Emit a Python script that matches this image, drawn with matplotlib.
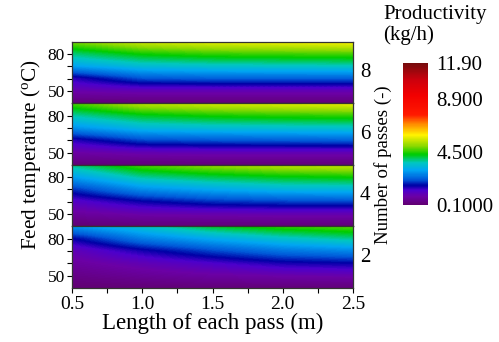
import numpy as np
import matplotlib
matplotlib.use("Agg")
import matplotlib.pyplot as plt
from matplotlib.colors import LinearSegmentedColormap, Normalize
from matplotlib.ticker import MultipleLocator, FixedLocator

plt.rcParams["font.family"] = ["Liberation Serif", "DejaVu Serif"]
plt.rcParams["mathtext.fontset"] = "custom"
plt.rcParams["mathtext.rm"] = "Liberation Serif"

# pass length (m) and feed temperature (degC) grid
lengths = [0.5, 1.0, 1.5, 2.0, 2.5]
temps = [40, 50, 60, 70, 80, 90]
passes = [8, 6, 4, 2]  # top panel to bottom panel

# productivity (kg/h), rows = temps (40 -> 90), cols = lengths
prod_8 = [
    [0.20, 0.20, 0.20, 0.20, 0.20],
    [0.90, 1.00, 1.00, 1.00, 1.00],
    [1.50, 2.20, 2.30, 2.30, 2.30],
    [3.00, 3.40, 3.50, 3.55, 3.60],
    [3.90, 4.40, 4.60, 4.65, 4.70],
    [5.00, 5.60, 5.80, 5.90, 6.00],
]
prod_6 = [
    [0.20, 0.20, 0.20, 0.20, 0.20],
    [0.80, 0.95, 1.00, 1.00, 1.00],
    [1.50, 2.10, 2.20, 2.25, 2.30],
    [2.80, 3.30, 3.40, 3.45, 3.50],
    [3.70, 4.20, 4.40, 4.50, 4.55],
    [4.70, 5.40, 5.60, 5.70, 5.80],
]
prod_4 = [
    [0.15, 0.20, 0.20, 0.20, 0.20],
    [0.70, 0.90, 0.95, 1.00, 1.00],
    [1.20, 1.70, 2.00, 2.10, 2.15],
    [2.00, 2.80, 3.10, 3.30, 3.35],
    [3.00, 3.80, 4.10, 4.30, 4.40],
    [3.90, 4.80, 5.20, 5.50, 5.60],
]
prod_2 = [
    [0.10, 0.15, 0.20, 0.20, 0.20],
    [0.40, 0.60, 0.75, 0.85, 0.90],
    [0.70, 1.00, 1.30, 1.60, 1.70],
    [1.00, 1.60, 2.10, 2.50, 2.70],
    [1.70, 2.60, 3.10, 3.50, 3.80],
    [2.90, 3.50, 4.20, 4.60, 4.80],
]
panels = [prod_8, prod_6, prod_4, prod_2]

vmin, vmax = 0.1, 11.9
cbar_ticks = [0.1, 4.5, 8.9, 11.9]
cbar_labels = ["0.1000", "4.500", "8.900", "11.90"]

# rainbow palette anchored on productivity values
anchors = [
    (0.1, (0.38, 0.00, 0.45)),
    (0.8, (0.42, 0.00, 0.65)),
    (1.3, (0.30, 0.00, 0.80)),
    (1.7, (0.00, 0.00, 0.65)),
    (2.2, (0.00, 0.35, 0.85)),
    (3.0, (0.00, 0.65, 0.95)),
    (3.6, (0.00, 0.78, 0.75)),
    (4.3, (0.00, 0.80, 0.00)),
    (5.0, (0.55, 0.85, 0.00)),
    (5.9, (1.00, 0.95, 0.00)),
    (6.8, (1.00, 0.55, 0.00)),
    (7.6, (1.00, 0.10, 0.00)),
    (9.2, (0.95, 0.00, 0.00)),
    (10.5, (0.80, 0.00, 0.05)),
    (11.9, (0.45, 0.05, 0.05)),
]
cmap = LinearSegmentedColormap.from_list(
    "prod", [((v - vmin) / (vmax - vmin), c) for v, c in anchors])
norm = Normalize(vmin=vmin, vmax=vmax)

fig = plt.figure(figsize=(4.99, 3.42), dpi=100)

left, right = 72 / 499, 353 / 499
top, bottom = 1 - 41.7 / 342, 1 - 288 / 342
h = (top - bottom) / 4

# half-cell padding so each pixel centre sits on a grid node
dl = (lengths[1] - lengths[0]) / 2
dt = (temps[1] - temps[0]) / 2
extent = [lengths[0] - dl, lengths[-1] + dl, temps[0] - dt, temps[-1] + dt]

axes = []
for i, (n, data) in enumerate(zip(passes, panels)):
    ax = fig.add_axes([left, top - (i + 1) * h, right - left, h])
    ax.imshow(np.array(data), cmap=cmap, norm=norm, origin="lower",
              extent=extent, aspect="auto", interpolation="bilinear",
              interpolation_stage="data")
    ax.set_xlim(0.5, 2.5)
    ax.set_ylim(40, 90)
    ax.yaxis.set_major_locator(FixedLocator([50, 80]))
    ax.yaxis.set_minor_locator(FixedLocator([60, 70]))
    ax.xaxis.set_major_locator(MultipleLocator(0.5))
    ax.xaxis.set_minor_locator(MultipleLocator(0.25))
    ax.tick_params(axis="y", which="both", direction="out", length=3.5,
                   width=0.8, labelsize=12.5, pad=1.5, right=False)
    ax.tick_params(axis="x", which="both", direction="out", length=3.5,
                   width=0.8, labelsize=14, pad=2, top=False)
    if i < 3:
        ax.tick_params(axis="x", which="both", bottom=False, labelbottom=False)
    for s in ax.spines.values():
        s.set_linewidth(0.9)
        s.set_color("#333333")
    ax.text(1.025, 0.5, str(n), transform=ax.transAxes, ha="left",
            va="center", fontsize=15)
    axes.append(ax)

axes[-1].set_xlabel("Length of each pass (m)", fontsize=16.5, labelpad=0)
fig.text(0.062, 1 - 155 / 342, r"Feed temperature ($\mathregular{^{o}}$C)",
         rotation=90, ha="center", va="center", fontsize=15.3)
fig.text(383 / 499, 1 - 165 / 342, "Number of passes (-)",
         rotation=90, ha="center", va="center", fontsize=13.6)

cax = fig.add_axes([403 / 499, 1 - 205 / 342, 25 / 499, 142.3 / 342])
cb = fig.colorbar(plt.cm.ScalarMappable(norm=norm, cmap=cmap), cax=cax)
cb.set_ticks(cbar_ticks)
cb.set_ticklabels(cbar_labels)
cb.outline.set_visible(False)
cax.tick_params(length=0, labelsize=15, pad=6)

fig.text(383 / 499, 1 - 5 / 342, "Productivity\n(kg/h)", ha="left", va="top",
         fontsize=15, linespacing=1.1)

fig.savefig("out.png", dpi=100)
